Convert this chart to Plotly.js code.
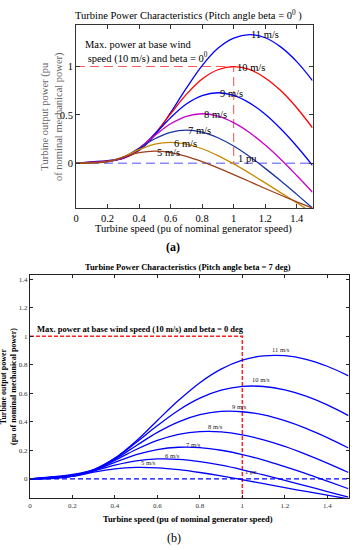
<!DOCTYPE html>
<html><head><meta charset="utf-8">
<script src="https://cdn.plot.ly/plotly-3.0.1.min.js"></script>
<style>html,body{margin:0;padding:0;background:#fff;}#g{width:355px;height:550px;}</style>
</head><body><div id="g"></div>
<script>
// Turbine speed (pu)
const speed = [0,0.1,0.2,0.3,0.4,0.5,0.6,0.7,0.8,0.9,1.0,1.1,1.2,1.3,1.4,1.5];
const windLabels = ['11 m/s','10 m/s','9 m/s','8 m/s','7 m/s','6 m/s','5 m/s'];

// (a) pitch angle beta = 0 deg : turbine output power (pu)
const pA11 = [0,0.014,0.028,0.053,0.132,0.291,0.523,0.777,1.010,1.189,1.295,1.331,1.298,1.201,1.051,0.855];
const pA10 = [0,0.012,0.023,0.050,0.138,0.304,0.511,0.712,0.871,0.967,1.000,0.970,0.882,0.749,0.574,0.367];
const pA9  = [0,0.009,0.020,0.053,0.147,0.302,0.471,0.612,0.699,0.729,0.702,0.624,0.507,0.354,0.176,-0.022];
const pA8  = [0,0.007,0.017,0.056,0.156,0.288,0.408,0.486,0.512,0.488,0.420,0.318,0.188,0.039,-0.127,-0.300];
const pA7  = [0,0.006,0.016,0.061,0.154,0.253,0.320,0.343,0.322,0.264,0.178,0.070,-0.053,-0.184,-0.322,-0.462];
const pA6  = [0,0.004,0.016,0.066,0.140,0.197,0.216,0.198,0.150,0.079,-0.007,-0.102,-0.203,-0.306,-0.409,-0.512];
const pA5  = [0,0.003,0.017,0.064,0.109,0.125,0.110,0.072,0.017,-0.048,-0.117,-0.189,-0.261,-0.331,-0.399,-0.465];

// (b) pitch angle beta = 7 deg
const pB11 = [0,0.014,0.031,0.066,0.146,0.266,0.410,0.551,0.675,0.770,0.833,0.863,0.864,0.839,0.790,0.723];
const pB10 = [0,0.012,0.026,0.064,0.144,0.255,0.374,0.482,0.566,0.622,0.649,0.648,0.624,0.580,0.519,0.444];
const pB9  = [0,0.010,0.023,0.063,0.138,0.233,0.326,0.400,0.450,0.473,0.471,0.449,0.409,0.355,0.290,0.217];
const pB8  = [0,0.008,0.021,0.061,0.130,0.206,0.270,0.313,0.332,0.330,0.309,0.274,0.228,0.172,0.111,0.045];
const pB7  = [0,0.006,0.019,0.059,0.116,0.170,0.206,0.222,0.220,0.201,0.171,0.132,0.086,0.037,-0.016,-0.069];
const pB6  = [0,0.005,0.019,0.055,0.097,0.127,0.140,0.137,0.121,0.096,0.064,0.028,-0.010,-0.049,-0.089,-0.128];
const pB5  = [0,0.003,0.018,0.047,0.071,0.081,0.078,0.065,0.045,0.021,-0.006,-0.033,-0.061,-0.088,-0.114,-0.140];

// reference lines
const basePowerX = [0,1,1];
const basePowerYa = [1,1,0];
const basePowerYb = [1,1,-0.14];
const onePuX = [0,1.5];
const onePuY = [0,0];

// label anchor points (data coords)
const labelA = [[1.10,1.335],[1.01,0.99],[0.90,0.725],[0.80,0.50],[0.70,0.337],[0.607,0.20],[0.50,0.11]];
const labelB = [[1.18,0.91],[1.09,0.694],[0.985,0.51],[0.875,0.366],[0.77,0.243],[0.67,0.161],[0.56,0.114]];

const seriesA = [pA11,pA10,pA9,pA8,pA7,pA6,pA5];
const seriesB = [pB11,pB10,pB9,pB8,pB7,pB6,pB5];
const colorsA = ['#0000ff','#ff0000','#0000ff','#c800c8','#1c34a0','#c88a00','#a0401c'];

const SERIF = 'Liberation Serif, Times New Roman, serif';
const traces = [];
traces.push({x:onePuX,y:onePuY,xaxis:'x',yaxis:'y',mode:'lines',line:{color:'#8a8aff',width:1.3,dash:'9px,5px'},hoverinfo:'skip'});
traces.push({x:basePowerX,y:basePowerYa,xaxis:'x',yaxis:'y',mode:'lines',line:{color:'#ff5a5a',width:1.1,dash:'9px,5px'},hoverinfo:'skip'});
seriesA.forEach((s,i)=>traces.push({x:speed,y:s,xaxis:'x',yaxis:'y',mode:'lines',line:{color:colorsA[i],width:1.3,shape:'spline'},hoverinfo:'skip'}));
traces.push({x:onePuX,y:onePuY,xaxis:'x2',yaxis:'y2',mode:'lines',line:{color:'#0000ff',width:1.2,dash:'5px,3px'},hoverinfo:'skip'});
traces.push({x:basePowerX,y:basePowerYb,xaxis:'x2',yaxis:'y2',mode:'lines',line:{color:'#ff2020',width:1.5,dash:'4px,2px'},hoverinfo:'skip'});
seriesB.forEach((s)=>traces.push({x:speed,y:s,xaxis:'x2',yaxis:'y2',mode:'lines',line:{color:'#0000ff',width:1.3,shape:'spline'},hoverinfo:'skip'}));

const ann = [];
function pa(text,px,py,opts){ann.push(Object.assign({text:text,x:px/355,y:1-py/550,xref:'paper',yref:'paper',showarrow:false,xanchor:'center',yanchor:'middle',font:{family:SERIF,size:10,color:'#000'}},opts||{}));}
// (a)
pa('Turbine Power Characteristics (Pitch angle beta = 0<sup>0</sup> )',189,15,{font:{family:SERIF,size:10.5,color:'#000'}});
pa('Turbine speed (pu of nominal generator speed)',193,229,{font:{family:SERIF,size:10.5,color:'#000'}});
pa('Turbine output power (pu<br>of nominal mechanical power)',52,117,{textangle:-90,font:{family:SERIF,size:10.5,color:'#666'}});
pa('Max. power at base wind<br> speed (10 m/s) and beta = 0<sup>0</sup>',83,52,{xanchor:'left',align:'left',font:{family:SERIF,size:10.5,color:'#000'}});
pa('<b>(a)</b>',173,247,{font:{family:SERIF,size:12,color:'#000'}});
labelA.forEach((p,i)=>ann.push({text:windLabels[i],x:p[0],y:p[1],xref:'x',yref:'y',showarrow:false,xanchor:'left',yanchor:'middle',font:{family:SERIF,size:10.5,color:'#000'}}));
ann.push({text:'1 pu',x:1.015,y:0.045,xref:'x',yref:'y',showarrow:false,xanchor:'left',yanchor:'middle',font:{family:SERIF,size:10.5,color:'#000'}});
// (b)
pa('<b>Turbine Power Characteristics (Pitch angle beta = 7 deg)</b>',188,267,{font:{family:SERIF,size:8.5,color:'#000'}});
pa('<b>Turbine speed (pu of nominal generator speed)</b>',188,519,{font:{family:SERIF,size:8.5,color:'#000'}});
pa('<b>Turbine output power<br>(pu of nominal mechanical power)</b>',8,387,{textangle:-90,font:{family:SERIF,size:8,color:'#000'}});
pa('<b>Max. power at base wind speed (10 m/s) and beta = 0 deg</b>',35,329,{xanchor:'left',font:{family:SERIF,size:8.5,color:'#000'}});
pa('(b)',174,538,{font:{family:SERIF,size:12,color:'#000'}});
labelB.forEach((p,i)=>ann.push({text:windLabels[i],x:p[0],y:p[1],xref:'x2',yref:'y2',showarrow:false,xanchor:'center',yanchor:'middle',font:{family:SERIF,size:6.5,color:'#222'}}));
ann.push({text:'1 pu',x:1.043,y:0.051,xref:'x2',yref:'y2',showarrow:false,xanchor:'center',yanchor:'middle',font:{family:SERIF,size:6.5,color:'#222'}});

const axA = {showline:true,mirror:'ticks',ticks:'inside',ticklen:4,linecolor:'#333',linewidth:1,tickcolor:'#333',showgrid:false,zeroline:false,tickfont:{family:SERIF,size:10.5,color:'#000'}};
const axB = {showline:true,mirror:'ticks',ticks:'inside',ticklen:3,linecolor:'#222',linewidth:1,tickcolor:'#222',showgrid:false,zeroline:false,tickfont:{family:SERIF,size:7,color:'#333'}};

const layout = {
  width:355,height:550,autosize:false,showlegend:false,
  margin:{l:0,r:0,t:0,b:0},paper_bgcolor:'#fff',plot_bgcolor:'#fff',
  xaxis:Object.assign({},axA,{domain:[76/355,312.5/355],range:[0,1.5],tickvals:[0,0.2,0.4,0.6,0.8,1,1.2,1.4],anchor:'y'}),
  yaxis:Object.assign({},axA,{domain:[1-208.3/550,1-25/550],range:[-0.466,1.43],tickvals:[0,0.5,1],anchor:'x'}),
  xaxis2:Object.assign({},axB,{domain:[30/355,348.5/355],range:[0,1.5],tickvals:[0,0.2,0.4,0.6,0.8,1,1.2,1.4],anchor:'y2'}),
  yaxis2:Object.assign({},axB,{domain:[1-498.3/550,1-275/550],range:[-0.136,1.43],tickvals:[0,0.2,0.4,0.6,0.8,1,1.2,1.4],anchor:'x2'}),
  annotations:ann
};
Plotly.newPlot('g',traces,layout,{staticPlot:true,displayModeBar:false});
</script></body></html>
